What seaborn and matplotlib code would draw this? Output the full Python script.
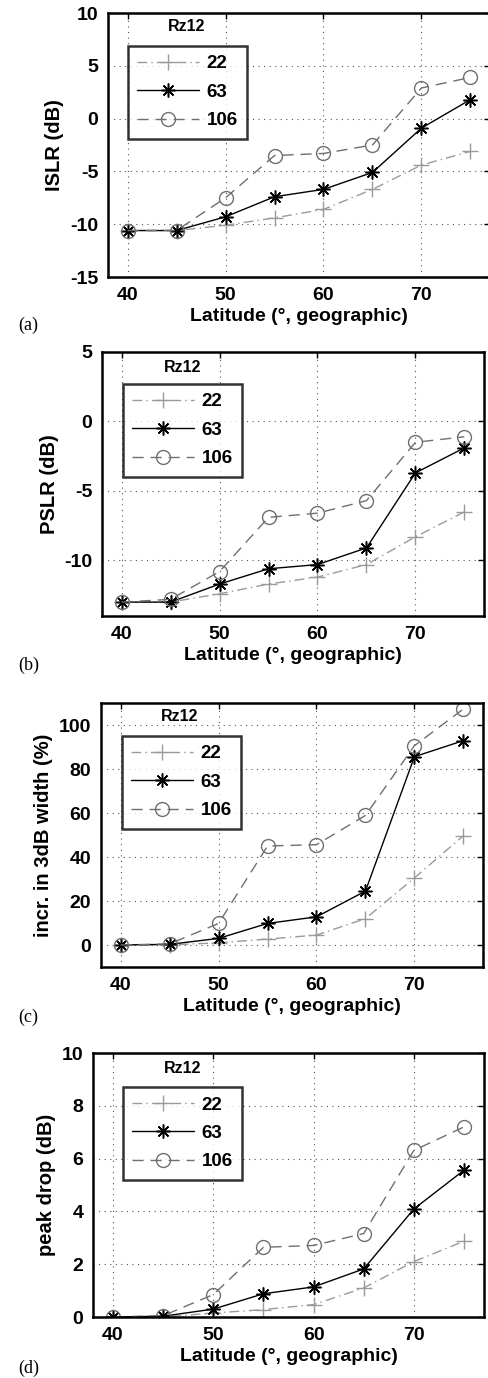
import matplotlib
matplotlib.use("Agg")
import matplotlib.pyplot as plt
import numpy as np
import pandas as pd
import seaborn as sns

sns.set_theme(style="white")
plt.rcParams["font.family"] = ["Liberation Sans", "DejaVu Sans"]
plt.rcParams["font.weight"] = "bold"
plt.rcParams["axes.unicode_minus"] = False
for key in ["text.color", "axes.labelcolor", "xtick.color", "ytick.color"]:
    plt.rcParams[key] = "black"

# Latitudes (degrees, geographic)
latitude = [40, 45, 50, 55, 60, 65, 70, 75]

# Solar activity levels (Rz12)
rz_levels = ["22", "63", "106"]

# ISLR (dB)
islr_22 = [-10.6, -10.6, -10.1, -9.4, -8.6, -6.7, -4.4, -3.1]
islr_63 = [-10.6, -10.6, -9.3, -7.4, -6.7, -5.1, -0.9, 1.8]
islr_106 = [-10.6, -10.6, -7.5, -3.5, -3.3, -2.5, 2.9, 3.9]

# PSLR (dB)
pslr_22 = [-13.0, -13.0, -12.4, -11.7, -11.2, -10.3, -8.3, -6.5]
pslr_63 = [-13.0, -13.0, -11.7, -10.6, -10.3, -9.1, -3.7, -1.9]
pslr_106 = [-13.0, -12.8, -10.8, -6.9, -6.6, -5.7, -1.5, -1.1]

# Increase in 3 dB width (%)
width_22 = [0.0, 0.0, 1.0, 2.7, 4.5, 12.0, 30.5, 49.7]
width_63 = [0.0, 0.3, 3.0, 9.8, 12.8, 24.5, 85.6, 92.9]
width_106 = [0.0, 0.5, 9.8, 45.0, 45.6, 58.9, 90.6, 107.3]

# Peak drop (dB)
drop_22 = [0.0, 0.0, 0.15, 0.28, 0.47, 1.1, 2.1, 2.87]
drop_63 = [0.0, 0.03, 0.3, 0.88, 1.14, 1.82, 4.09, 5.56]
drop_106 = [0.0, 0.05, 0.85, 2.64, 2.71, 3.16, 6.31, 7.2]

ylabels = ["ISLR (dB)", "PSLR (dB)", "incr. in 3dB width (%)", "peak drop (dB)"]
panel_tags = ["(a)", "(b)", "(c)", "(d)"]
panel_series = [
    (islr_22, islr_63, islr_106),
    (pslr_22, pslr_63, pslr_106),
    (width_22, width_63, width_106),
    (drop_22, drop_63, drop_106),
]
ylims = [(-15, 10), (-14, 5), (-10, 110), (0, 10)]
yticks = [np.arange(-15, 11, 5), np.arange(-10, 6, 5),
          np.arange(0, 101, 20), np.arange(0, 11, 2)]

W, H = 488, 1378
fig = plt.figure(figsize=(W / 100, H / 100), dpi=100)

# axes boxes in pixels: left, top, right, bottom
boxes = [(108, 13, 490, 277), (102, 352, 484, 616),
         (101, 703, 483, 967), (93, 1053, 484, 1317)]
legend_anchor = [(0.052, 0.875), (0.055, 0.879), (0.055, 0.875), (0.077, 0.871)]
rz_pos = [(0.207, 0.947), (0.21, 0.943), (0.207, 0.947), (0.228, 0.943)]
tag_y = [325, 665, 1017, 1368]

styles = {
    "22": dict(color="#9a9a9a", linestyle=(0, (7, 3, 1, 3)), marker="+",
               markersize=11, markeredgewidth=1.0, linewidth=1.0,
               markeredgecolor="#9a9a9a"),
    "63": dict(color="black", linestyle="-", marker=(8, 2, 0),
               markersize=10, markeredgewidth=1.1, linewidth=1.0,
               markeredgecolor="black"),
    "106": dict(color="#6f6f6f", linestyle=(0, (8, 5)), marker="o",
                markersize=10, markerfacecolor="none", markeredgewidth=1.0,
                linewidth=1.0, markeredgecolor="#6f6f6f"),
}

for i in range(4):
    l, t, r, b = boxes[i]
    ax = fig.add_axes([l / W, 1 - b / H, (r - l) / W, (b - t) / H])
    for name, vals in zip(rz_levels, panel_series[i]):
        df = pd.DataFrame({"lat": latitude, "val": vals})
        st = styles[name]
        sns.lineplot(data=df, x="lat", y="val", ax=ax, estimator=None,
                     sort=False, label=name, **st)
    ax.set_xlim(38, 77)
    ax.set_ylim(*ylims[i])
    ax.set_xticks([40, 50, 60, 70])
    ax.set_yticks(yticks[i])
    ax.grid(True, linestyle=(0, (1, 4)), color="#555555", linewidth=0.8)
    ax.tick_params(direction="in", length=4, width=1, top=True, right=True,
                   labelsize=14, pad=7, color="black")
    for lab in ax.get_xticklabels() + ax.get_yticklabels():
        lab.set_fontweight("bold")
    for sp in ax.spines.values():
        sp.set_color("black")
        sp.set_linewidth(1.8)
    ax.set_xlabel("Latitude (°, geographic)", fontsize=14, fontweight="bold",
                  labelpad=3)
    ax.set_ylabel(ylabels[i], fontsize=14.5, fontweight="bold", labelpad=4)
    ax.text(*rz_pos[i], "Rz12", transform=ax.transAxes, ha="center",
            va="center", fontsize=11.5, fontweight="bold")
    leg = ax.legend(loc="upper left", bbox_to_anchor=legend_anchor[i],
                    frameon=True, fancybox=False, fontsize=13.5,
                    handlelength=3.3, handletextpad=0.4, labelspacing=0.6,
                    borderpad=0.5, numpoints=1, borderaxespad=0)
    leg.get_frame().set_edgecolor("black")
    leg.get_frame().set_linewidth(1.8)
    for txt in leg.get_texts():
        txt.set_fontweight("bold")
    fig.text(18 / W, 1 - tag_y[i] / H, panel_tags[i], ha="left", va="center",
             fontsize=13, family=["Liberation Serif"], fontweight="normal")

fig.savefig("out.png", dpi=100)
